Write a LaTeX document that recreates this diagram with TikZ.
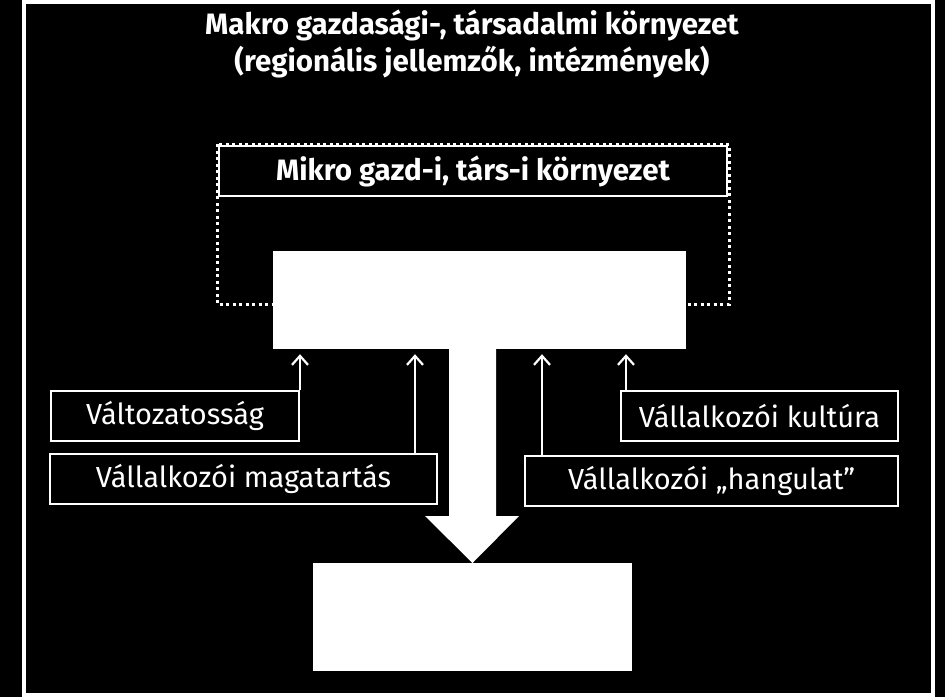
\documentclass[tikz,border=0pt]{standalone}
\usepackage{fontspec}
\setmainfont{Fira Sans}
\usetikzlibrary{arrows.meta}
\begin{document}
\begin{tikzpicture}[x=1pt,y=-1pt,
  lbl/.style={draw=white,line width=2pt,fill=black,text=white,
    font=\fontsize{29}{32}\selectfont,inner sep=0pt,minimum height=50pt},
  whitebox/.style={fill=white,draw=none,inner sep=0pt},
  infl/.style={draw=white,line width=2.2pt,
    -{Straight Barb[length=9pt,width=16pt]}},
  dotbox/.style={draw=white,line width=3pt,dash pattern=on 3pt off 3.5pt}
]
\useasboundingbox (0,0) rectangle (945,697);
\fill[black] (0,0) rectangle (945,697);
\draw[white,line width=3.5pt] (24,2) rectangle (933,695);

\node[text=white,align=center,font=\bfseries\fontsize{29.5}{37}\selectfont]
  (makro) at (472,44) {Makro gazdasági-, társadalmi környezet\\(regionális jellemzők, intézmények)};

\node[draw=white,line width=2pt,text=white,inner sep=0pt,
  minimum width=508pt,minimum height=50pt,
  font=\bfseries\fontsize{29.5}{32}\selectfont] (mikro) at (473,171)
  {Mikro gazd-i, társ-i környezet};
\draw[dotbox] (217,144) rectangle (729,304);

\node[whitebox,minimum width=413pt,minimum height=98pt] (core) at (479.5,300) {};
\node[whitebox,minimum width=319pt,minimum height=108pt] (out) at (472.5,617) {};

% big arrow
\fill[white] (449,349) -- (496,349) -- (496,516) -- (519,516)
  -- (472.5,563) -- (425,516) -- (449,516) -- cycle;

\node[lbl,minimum width=248pt] (valt) at (175,416) {Változatosság};
\node[lbl,minimum width=387pt] (magat) at (243.5,478.5) {Vállalkozói magatartás};
\node[lbl,minimum width=277pt] (kult) at (759.5,416) {Vállalkozói kultúra};
\node[lbl,minimum width=373pt] (hang) at (711.5,481) {Vállalkozói „hangulat”};

\draw[infl,shorten >=5pt] (valt.north east) -- (valt.north east |- core.south);
\draw[infl,shorten >=5pt] ([xshift=-23pt]magat.north east) -- ([xshift=-23pt]magat.north east |- core.south);
\draw[infl,shorten >=5pt] ([xshift=18pt]hang.north west) -- ([xshift=18pt]hang.north west |- core.south);
\draw[infl,shorten >=5pt] ([xshift=6pt]kult.north west) -- ([xshift=6pt]kult.north west |- core.south);
\end{tikzpicture}
\end{document}
